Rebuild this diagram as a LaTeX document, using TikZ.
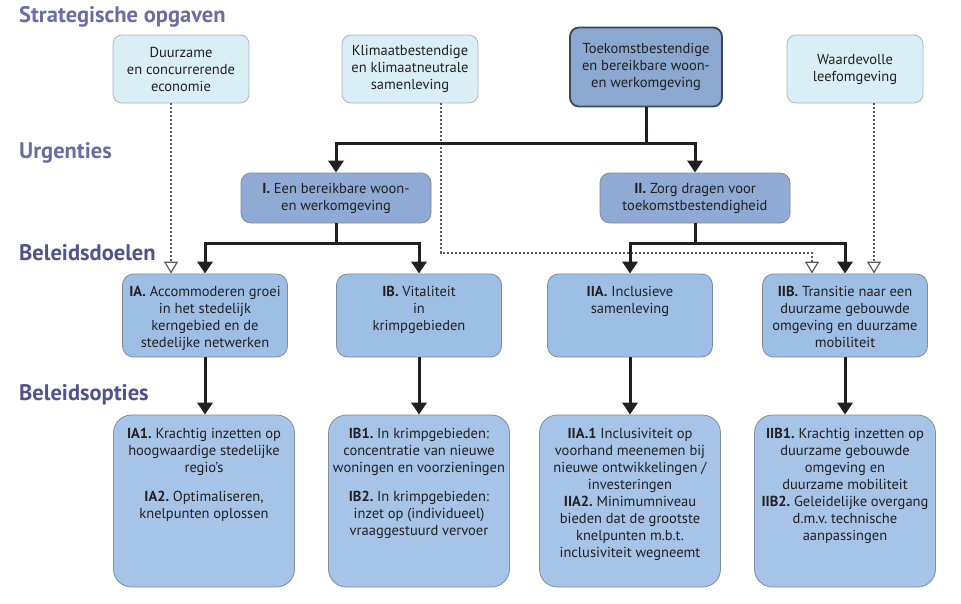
\documentclass[tikz,border=0pt]{standalone}
\usepackage{fontspec}
\setmainfont{PT Sans}
\frenchspacing
\usetikzlibrary{arrows.meta,calc}
\definecolor{txt}{HTML}{231F20}
\definecolor{topfill}{HTML}{DAEEF5}
\definecolor{topdraw}{HTML}{A9B8C2}
\definecolor{mainfill}{HTML}{8BA8D1}
\definecolor{maindraw}{HTML}{3F4858}
\definecolor{urgfill}{HTML}{8EAAD5}
\definecolor{goalfill}{HTML}{9EBFE5}
\definecolor{optfill}{HTML}{A5C4E8}
\definecolor{boxdraw}{HTML}{7E8CA0}
\definecolor{headA}{HTML}{6C6CA4}
\definecolor{headB}{HTML}{52528C}
\definecolor{dashcol}{HTML}{5A5A5A}
\begin{document}
\begin{tikzpicture}[x=1pt,y=-1pt,
  boxtxt/.style={text=txt,font=\fontsize{14.5}{17}\selectfont},
  topbox/.style={boxtxt,draw=topdraw,fill=topfill,line width=0.8pt,rounded corners=9pt,
    minimum width=136pt,minimum height=68pt,align=center,inner sep=2pt,font=\fontsize{14.5}{17}\selectfont},
  mainbox/.style={topbox,draw=maindraw,fill=mainfill,line width=1.8pt,minimum width=152pt,minimum height=79pt},
  urgbox/.style={boxtxt,draw=boxdraw,fill=urgfill,line width=0.8pt,rounded corners=10pt,
    minimum width=190pt,minimum height=50pt,align=center,inner sep=2pt},
  goalbox/.style={draw=boxdraw,fill=goalfill,line width=0.8pt,rounded corners=11pt,
    minimum width=165pt,minimum height=83pt,inner sep=0pt},
  optbox/.style={draw=boxdraw,fill=optfill,line width=0.8pt,rounded corners=18pt,
    minimum width=181pt,minimum height=172pt,inner sep=0pt},
  lbl/.style={boxtxt,align=center,inner sep=0pt,anchor=north},
  head/.style={font=\bfseries\fontsize{22.5}{24}\selectfont,anchor=west,inner sep=0pt},
  trunk/.style={line width=3pt,draw=txt},
  conn/.style={trunk,-{Triangle[width=15pt,length=12pt]}},
  dashline/.style={draw=dashcol,line width=1.2pt,dash pattern=on 2pt off 2pt,
    -{Triangle[open,width=14pt,length=12pt,fill=white]}}]
\useasboundingbox[fill=white] (0,0) rectangle (961,603);

% headings
\node[head,text=headA] (h1) at (19,17) {Strategische opgaven};
\node[head,text=headA] (h2) at (19,153) {Urgenties};
\node[head,text=headB] (h3) at (19,253) {Beleidsdoelen};
\node[head,text=headB] (h4) at (19,395) {Beleidsopties};

% strategic tasks
\node[topbox] (duur) at (181,69) {Duurzame\\en concurrerende\\economie};
\node[topbox] (klim) at (410,69) {Klimaatbestendige\\en klimaatneutrale\\samenleving};
\node[mainbox] (toek) at (646,67) {Toekomstbestendige\\en bereikbare woon-\\en werkomgeving};
\node[topbox] (waar) at (855,69) {Waardevolle\\leefomgeving};

% urgencies
\node[urgbox] (urgI) at (336,198) {\textbf{I.} Een bereikbare woon-\\en werkomgeving};
\node[urgbox] (urgII) at (695,198) {\textbf{II.} Zorg dragen voor\\toekomstbestendigheid};

% goals
\node[goalbox] (IA) at (205,315.5) {};
\node[goalbox] (IB) at (419,315.5) {};
\node[goalbox] (IIA) at (630,315.5) {};
\node[goalbox] (IIB) at (845,315.5) {};
\node[lbl] (tIA) at ([yshift=-12pt]IA.north) {\textbf{IA.} Accommoderen groei\\in het stedelijk\\kerngebied en de\\stedelijke netwerken};
\node[lbl] (tIB) at ([yshift=-12pt]IB.north) {\textbf{IB.} Vitaliteit\\in\\krimpgebieden};
\node[lbl] (tIIA) at ([yshift=-12pt]IIA.north) {\textbf{IIA.} Inclusieve\\samenleving};
\node[lbl] (tIIB) at ([yshift=-12pt]IIB.north) {\textbf{IIB.} Transitie naar een\\duurzame gebouwde\\omgeving en duurzame\\mobiliteit};

% options
\node[optbox] (IA1) at (204,501) {};
\node[optbox] (IB1) at (419,501) {};
\node[optbox] (IIA1) at (630,501) {};
\node[optbox] (IIB1) at (845,501) {};
\node[lbl] (tIA1) at ([yshift=-13pt]IA1.north) {\textbf{IA1.} Krachtig inzetten op\\hoogwaardige stedelijke\\regio’s\\[12pt]\textbf{IA2.} Optimaliseren,\\knelpunten oplossen};
\node[lbl] (tIB1) at ([yshift=-13pt]IB1.north) {\textbf{IB1.} In krimpgebieden:\\concentratie van nieuwe\\woningen en voorzieningen\\[12pt]\textbf{IB2.} In krimpgebieden:\\inzet op (individueel)\\vraaggestuurd vervoer};
\node[lbl] (tIIA1) at ([yshift=-13pt]IIA1.north) {\textbf{IIA.1} Inclusiviteit op\\voorhand meenemen bij\\nieuwe ontwikkelingen /\\investeringen\\\textbf{IIA2.} Minimumniveau\\bieden dat de grootste\\knelpunten m.b.t.\\inclusiviteit wegneemt};
\node[lbl] (tIIB1) at ([yshift=-13pt]IIB1.north) {\textbf{IIB1.} Krachtig inzetten op\\duurzame gebouwde\\omgeving en\\duurzame mobiliteit\\\textbf{IIB2.} Geleidelijke overgang\\d.m.v. technische\\aanpassingen};

% dashed connectors
\draw[dashline] ([xshift=-10pt]duur.south) -- ([xshift=-10pt]duur.south |- IA.north);
\coordinate (kbend) at ($(klim.south)+(31,0)$);
\coordinate (kcorner) at (812,253);
\draw[dashline] (kbend) |- (kcorner) -- (kcorner |- IIB.north);
\draw[dashline] ([xshift=19pt]waar.south) -- ([xshift=19pt]waar.south |- IIB.north);

% solid connectors
\coordinate (j0) at (646,143);
\draw[trunk] (toek.south) -- (j0);
\draw[conn] (j0) -| (urgI.north);
\draw[conn] (j0) -| (urgII.north);
\coordinate (j1) at (336,243);
\draw[trunk] (urgI.south) -- (j1);
\draw[conn] (j1) -| (IA.north);
\draw[conn] (j1) -| (IB.north);
\coordinate (j2) at (695,243);
\draw[trunk] (urgII.south) -- (j2);
\draw[conn] (j2) -| (IIA.north);
\draw[conn] (j2) -| (IIB.north);

\draw[conn] (IA.south) -- (IA.south |- IA1.north);
\draw[conn] (IB.south) -- (IB.south |- IB1.north);
\draw[conn] (IIA.south) -- (IIA.south |- IIA1.north);
\draw[conn] (IIB.south) -- (IIB.south |- IIB1.north);
\end{tikzpicture}
\end{document}
